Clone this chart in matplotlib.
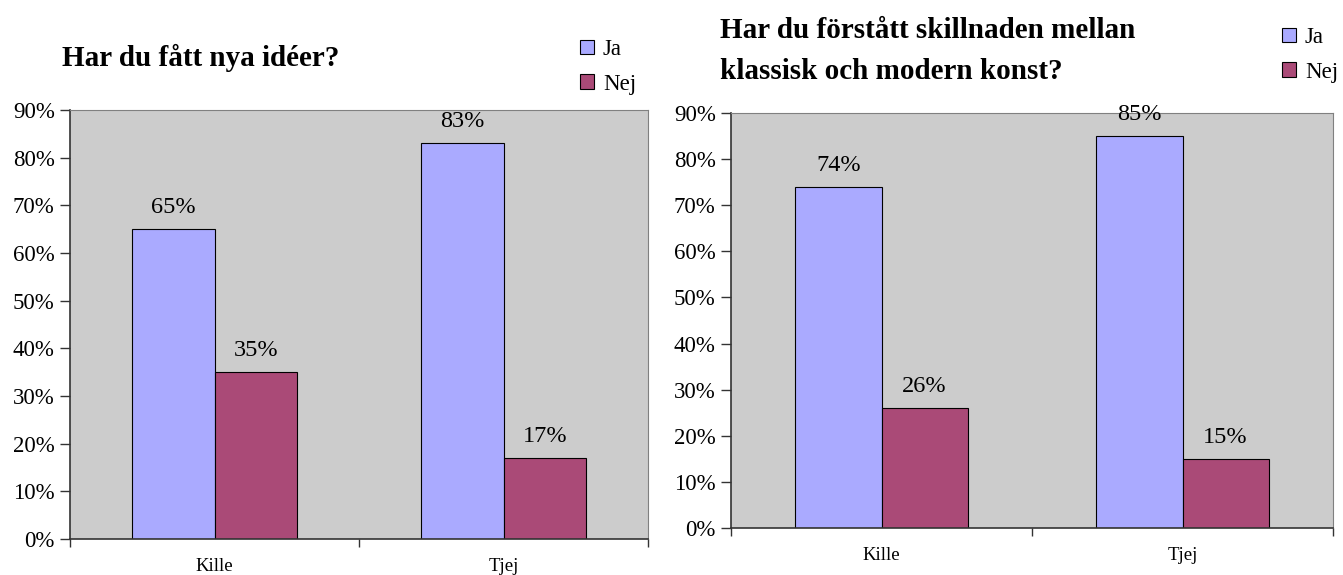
import numpy as np
import matplotlib
matplotlib.use('Agg')
import matplotlib.pyplot as plt

# data
kategorier = ['Kille', 'Tjej']
serier = ['Ja', 'Nej']
ideer_ja = [65, 83]
ideer_nej = [35, 17]
konst_ja = [74, 85]
konst_nej = [26, 15]

titel_1 = 'Har du fått nya idéer?'
titel_2 = 'Har du förstått skillnaden mellan\nklassisk och modern konst?'

# typsnitt
plt.rcParams['font.family'] = ['Liberation Serif', 'DejaVu Serif']

farg_ja = '#AAAAFF'
farg_nej = '#AA4A77'
farg_bg = '#CCCCCC'

fig = plt.figure(figsize=(13.43, 5.75), dpi=100)


def rita(ax, ja, nej):
    x = np.arange(len(kategorier))
    w = 0.286
    b1 = ax.bar(x - w / 2, ja, w, color=farg_ja, edgecolor='black', linewidth=0.8, label=serier[0])
    b2 = ax.bar(x + w / 2, nej, w, color=farg_nej, edgecolor='black', linewidth=0.8, label=serier[1])
    for b in (b1, b2):
        ax.bar_label(b, labels=['{:.0f}%'.format(v) for v in b.datavalues], padding=8, fontsize=17.5)

    ax.set_facecolor(farg_bg)
    ax.set_xlim(-0.5, len(kategorier) - 0.5)
    ax.set_ylim(0, 90)
    ax.set_yticks(range(0, 91, 10))
    ax.set_yticklabels(['{}%'.format(v) for v in range(0, 91, 10)], fontsize=16.5)
    ax.tick_params(axis='y', length=7, width=1, pad=4, color='#333333')

    # streck mellan kategorierna, etiketter i mitten
    ax.set_xticks([-0.5, 0.5, 1.5])
    ax.set_xticklabels([])
    ax.tick_params(axis='x', which='major', length=6, width=1, color='#333333')
    ax.set_xticks(x, minor=True)
    ax.set_xticklabels(kategorier, minor=True, fontsize=13.5)
    ax.tick_params(axis='x', which='minor', length=0, pad=14)

    for s in ('top', 'right'):
        ax.spines[s].set_color('#808080')
    for s in ('left', 'bottom'):
        ax.spines[s].set_color('#333333')
        ax.spines[s].set_linewidth(1.2)
    return b1, b2


ax1 = fig.add_axes([70 / 1343, 36 / 575, 578 / 1343, 429 / 575])
h1 = rita(ax1, ideer_ja, ideer_nej)
ax2 = fig.add_axes([731 / 1343, 47 / 575, 602 / 1343, 415 / 575])
h2 = rita(ax2, konst_ja, konst_nej)

# rubriker
fig.text(62 / 1343, 1 - 58 / 575, titel_1, fontsize=21, fontweight='bold', va='center', ha='left')
fig.text(720 / 1343, 1 - 51 / 575, titel_2, fontsize=21, fontweight='bold', va='center', ha='left',
         linespacing=1.7)

# teckenförklaringar
for h, xl, yt in ((h1, 580, 39), (h2, 1282, 27)):
    fig.legend(h, serier, loc='upper left', bbox_to_anchor=(xl / 1343, 1 - yt / 575),
               frameon=False, fontsize=16.5, handlelength=0.6, handleheight=0.6,
               handletextpad=0.4, labelspacing=0.6, borderaxespad=0, borderpad=0)

fig.savefig('out.png', dpi=100)
